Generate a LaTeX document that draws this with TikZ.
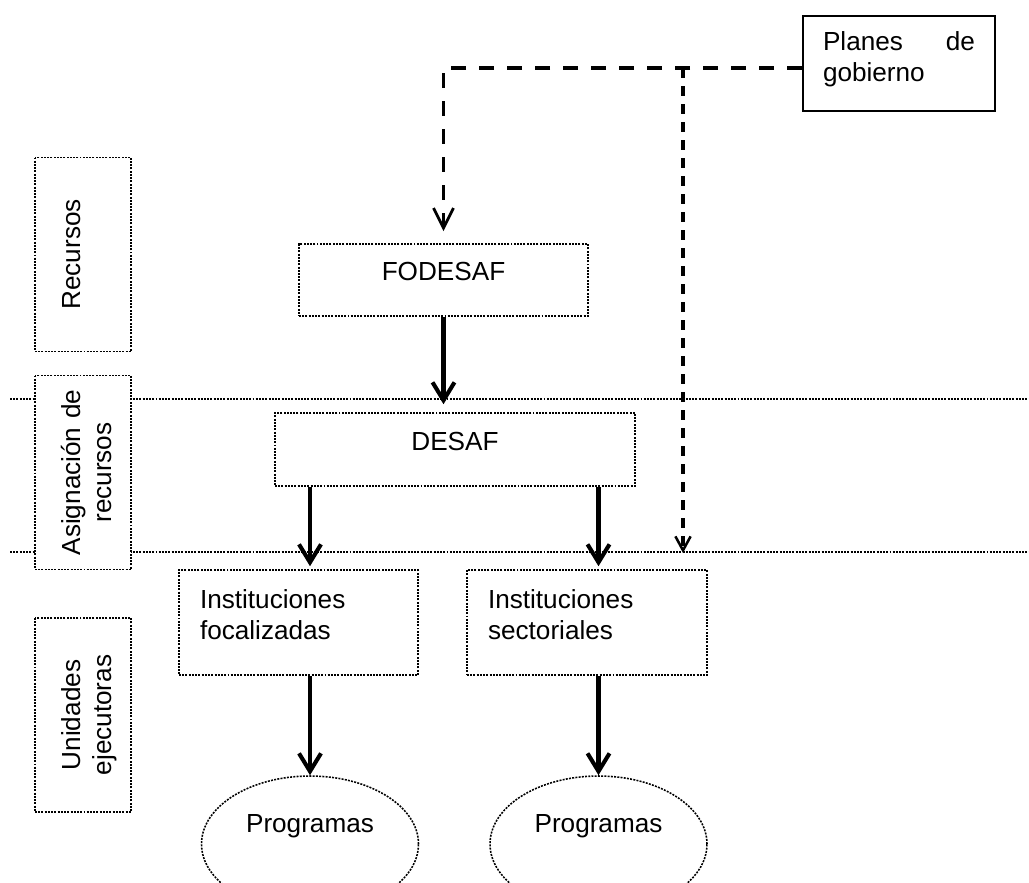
\documentclass[tikz,border=0pt]{standalone}
\usepackage{fontspec}
\setmainfont{Liberation Sans}
\usetikzlibrary{shapes,arrows.meta,positioning,calc}

\begin{document}
\begin{tikzpicture}[
    every node/.style={font=\fontsize{18.6}{22.4}\selectfont},
    dotbox/.style={draw, line width=1.1pt, dash pattern=on 1.4pt off 0.9pt, fill=white, inner sep=0pt},
    lanebox/.style={dotbox, rotate=90, minimum width=4.85cm, minimum height=2.4cm,
        text width=4.85cm, align=center, text height=1.125cm, text depth=1.275cm},
    instbox/.style={dotbox, minimum height=2.625cm, inner xsep=0.525cm, align=left,
        text height=0.95cm, text depth=1.675cm},
    progellipse/.style={dotbox, ellipse, minimum width=5.425cm, minimum height=3.4cm,
        text height=0.45cm, text depth=1.05cm},
    flow/.style={line width=2.9pt, -{Straight Barb[length=0.45cm,width=0.55cm]}},
    plan/.style={line width=2.8pt, dash pattern=on 0.375cm off 0.325cm},
    sepline/.style={line width=1.1pt, dash pattern=on 1.4pt off 0.9pt}
]
    \path[use as bounding box, clip] (0,0) rectangle (25.725,-22.05);

    % Separators
    \draw[sepline] (0.25,-9.975) -- (25.725,-9.975);
    \draw[sepline] (0.25,-13.8) -- (25.725,-13.8);

    % Lanes
    \node[lanebox] (recursos) at (2.075,-6.3625) {Recursos};
    \node[lanebox] (asignacion) at (2.075,-11.8125) {Asignación de\\recursos};
    \node[lanebox] (unidades) at (2.075,-17.875) {Unidades\\ejecutoras};

    % Boxes
    \node[draw, line width=1.3pt, fill=white, inner ysep=0pt, inner xsep=0.5cm,
        minimum height=2.375cm, text width=3.8cm, align=left,
        text height=0.85cm, text depth=1.525cm] (planes) at (22.475,-1.5875)
        {Planes\hfill de\\gobierno};
    \node[dotbox, minimum width=7.225cm, minimum height=1.8cm,
        text height=0.9cm, text depth=0.9cm] (fodesaf) at (11.0875,-7.0) {FODESAF};
    \node[dotbox, minimum width=9.0cm, minimum height=1.825cm,
        text height=0.925cm, text depth=0.9cm] (desaf) at (11.375,-11.2375) {DESAF};
    \node[instbox, text width=4.925cm] (focal) at (7.4625,-15.5625)
        {Instituciones\\focalizadas};
    \node[instbox, text width=4.95cm] (sector) at (14.675,-15.5625)
        {Instituciones\\sectoriales};
    \node[progellipse] (prog1) at (7.75,-21.1) {Programas};
    \node[progellipse] (prog2) at (14.9625,-21.1) {Programas};

    % Flow
    \draw[flow, shorten >=0.2cm] (fodesaf.south) -- (fodesaf.south |- desaf.north);
    \draw[flow, shorten >=0.075cm] (prog1 |- desaf.south) -- (prog1 |- focal.north);
    \draw[flow, shorten >=0.075cm] (prog2 |- desaf.south) -- (prog2 |- sector.north);
    \draw[flow] (prog1 |- focal.south) -- (prog1.north);
    \draw[flow] (prog2 |- sector.south) -- (prog2.north);

    % Government plans
    \coordinate (tap) at (17.075,-1.7);
    \coordinate (tapend) at (17.075,-13.825);
    \draw[plan, -{Straight Barb[length=0.5cm,width=0.5cm,line width=2pt]}]
        ([yshift=-0.1125cm]planes.west) -| ([yshift=0.3cm]fodesaf.north);
    \draw[plan, line width=2.5pt, dash pattern=on 0.25cm off 0.2cm,
        -{Straight Barb[length=0.35cm,width=0.38cm,line width=1.8pt]}] (tap) -- (tapend);
\end{tikzpicture}
\end{document}
